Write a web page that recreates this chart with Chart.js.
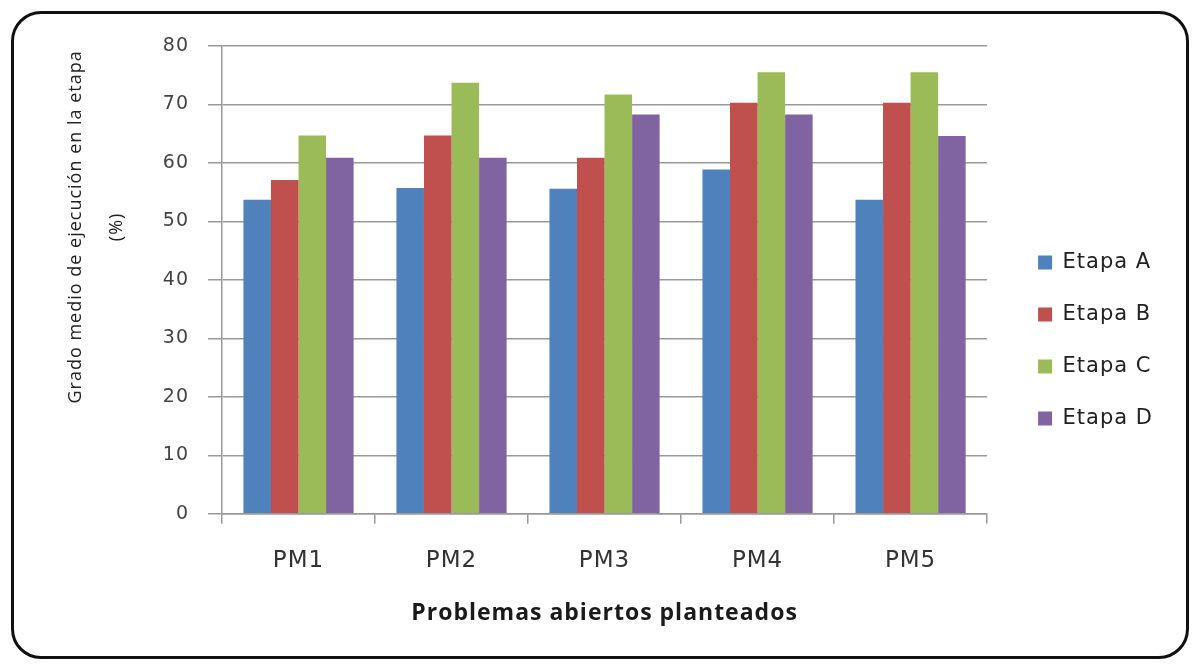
<!DOCTYPE html>
<html>
<head>
<meta charset="utf-8">
<script src="https://cdn.jsdelivr.net/npm/chart.js@4/dist/chart.umd.min.js"></script>
<style>
    html, body { margin: 0; padding: 0; background: #fff; }
    #marco {
        position: absolute;
        left: 11px; top: 11px;
        width: 1172px; height: 642px;
        border: 3px solid #111;
        border-radius: 30px;
        overflow: hidden;
    }
    #marco canvas { display: block; }
</style>
</head>
<body>
<div id="marco"><canvas id="grafico" width="1172" height="642"></canvas></div>
<script>
// Datos
const categorias = ["PM1", "PM2", "PM3", "PM4", "PM5"];
const etapas = ["Etapa A", "Etapa B", "Etapa C", "Etapa D"];
const etapaA = [53.7, 55.7, 55.6, 58.9, 53.7];
const etapaB = [57.1, 64.7, 60.9, 70.3, 70.3];
const etapaC = [64.7, 73.7, 71.7, 75.5, 75.5];
const etapaD = [60.9, 60.9, 68.3, 68.3, 64.6];
const colores = ["#4f81bd", "#c0504d", "#9bbb59", "#8064a2"];
const marcasY = [0, 10, 20, 30, 40, 50, 60, 70, 80];

// el original tiene el texto algo estirado a lo ancho
const espaciado = { x: "1px", y: "1px", legend: "1px" };

const pluginEspaciado = {
    id: "espaciado",
    beforeLayout(chart) {
        chart.boxes.forEach((box) => {
            if (box._envuelto) return;
            const clave = box === chart.legend ? "legend" : box.id;
            const sp = espaciado[clave];
            if (!sp) return;
            box._envuelto = true;

            const update = box.update;
            box.update = function (...args) {
                const c = chart.ctx;
                c.save();
                c.letterSpacing = sp;
                const r = update.apply(this, args);
                c.restore();
                return r;
            };

            const draw = box.draw;
            box.draw = function (...args) {
                const c = chart.ctx;
                c.save();
                c.letterSpacing = sp;
                if (clave === "legend") c.translate(20, 2);
                draw.apply(this, args);
                c.restore();
            };

            // el título del eje Y no está centrado en el eje, va más arriba
            if (clave === "y") {
                const drawTitle = box.drawTitle;
                box.drawTitle = function () {
                    const c = chart.ctx;
                    c.save();
                    c.translate(0, -53);
                    drawTitle.call(this);
                    c.restore();
                };
            }
        });
    },
};

document.addEventListener("DOMContentLoaded", function () {
    const ctx = document.getElementById("grafico");
    const series = [etapaA, etapaB, etapaC, etapaD];

    new Chart(ctx, {
        type: "bar",
        data: {
            labels: categorias,
            datasets: series.map((valores, i) => ({
                label: etapas[i],
                data: valores,
                backgroundColor: colores[i],
                borderWidth: 0,
                categoryPercentage: 0.72,
                barPercentage: 1.0,
            })),
        },
        plugins: [pluginEspaciado],
        options: {
            responsive: false,
            animation: false,
            layout: { padding: { left: 37, right: 43, top: 32, bottom: 25 } },
            plugins: {
                tooltip: { enabled: false },
                legend: {
                    position: "right",
                    labels: {
                        boxWidth: 14,
                        boxHeight: 14,
                        padding: 31,
                        color: "#222",
                        font: { family: "DejaVu Sans", size: 21 },
                    },
                },
            },
            scales: {
                x: {
                    grid: {
                        drawOnChartArea: false,
                        color: "#999",
                        lineWidth: 1.5,
                        tickLength: 10,
                    },
                    border: { color: "#999", width: 1.5 },
                    ticks: {
                        color: "#333",
                        padding: 23,
                        maxRotation: 0,
                        font: { family: "DejaVu Sans", size: 23 },
                    },
                    title: {
                        display: true,
                        text: "Problemas abiertos planteados",
                        color: "#1a1a1a",
                        padding: { top: 2, bottom: 4 },
                        font: { family: "Open Sans", size: 23, weight: "700" },
                    },
                },
                y: {
                    min: 0,
                    max: 80,
                    afterBuildTicks: (axis) => {
                        axis.ticks = marcasY.map((v) => ({ value: v }));
                    },
                    afterFit: (axis) => {
                        axis.width = 171;
                    },
                    grid: {
                        color: "#999",
                        lineWidth: 1.5,
                        tickLength: 14,
                    },
                    border: { color: "#999", width: 1.5 },
                    ticks: {
                        color: "#444",
                        padding: 19,
                        font: { family: "DejaVu Sans", size: 19 },
                    },
                    title: {
                        display: true,
                        text: ["Grado medio de ejecución en la etapa", "(%)"],
                        color: "#222",
                        padding: { top: 4 },
                        font: { family: "Open Sans", size: 18, lineHeight: 2.28 },
                    },
                },
            },
        },
    });
});
</script>
</body>
</html>
